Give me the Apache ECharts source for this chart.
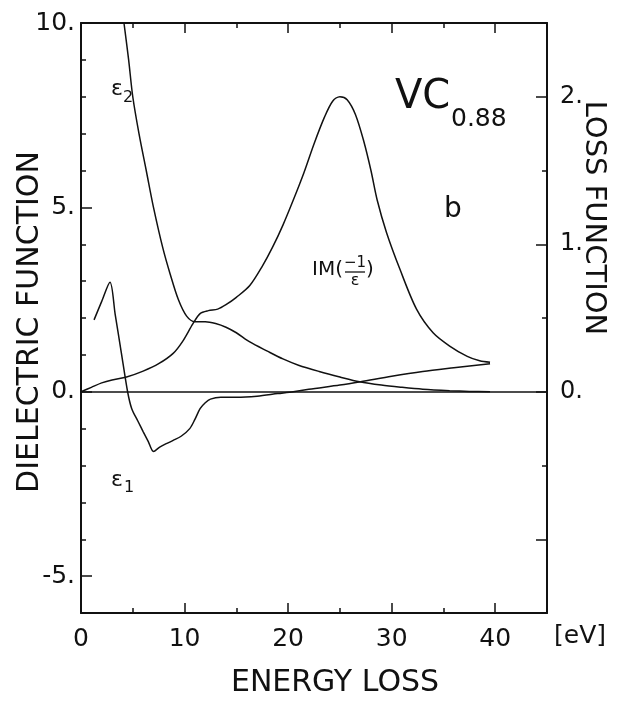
<!DOCTYPE html>
<html>
<head>
<meta charset="utf-8">
<script src="https://cdn.jsdelivr.net/npm/echarts@6/dist/echarts.min.js"></script>
<style>
  html, body { margin: 0; padding: 0; background: #fff; }
  #chart { width: 617px; height: 709px; }
</style>
</head>
<body>
<div id="chart"></div>
<script>
// eps2 (left axis)
const eps2X = [4.15, 4.6, 5.0, 5.6, 6.3, 7.0, 7.9, 8.6, 9.4, 10.2, 11, 12, 13, 14, 15, 16.3, 18, 19.5, 21, 23, 25, 26.9, 29, 31, 33, 35.6, 37.5, 39.5];
const eps2Y = [10, 9.0, 8.0, 7.0, 6.0, 5.0, 3.9, 3.2, 2.5, 2.05, 1.9, 1.9, 1.85, 1.75, 1.6, 1.35, 1.1, 0.89, 0.72, 0.55, 0.4, 0.27, 0.18, 0.12, 0.07, 0.03, 0.01, 0.0];
// eps1 (left axis)
const eps1X = [1.26, 2.0, 2.8, 3.3, 3.9, 4.5, 4.9, 5.5, 6.0, 6.5, 7.0, 7.6, 8.3, 8.9, 9.7, 10.5, 11.0, 11.5, 12.0, 12.5, 13.5, 15, 17, 19, 20.5, 22, 25, 27, 30, 33, 36, 39.5];
const eps1Y = [1.95, 2.45, 2.97, 2.1, 1.05, 0.0, -0.46, -0.8, -1.08, -1.35, -1.62, -1.5, -1.4, -1.32, -1.2, -1.0, -0.75, -0.46, -0.3, -0.2, -0.15, -0.15, -0.12, -0.05, 0.0, 0.07, 0.18, 0.27, 0.42, 0.55, 0.65, 0.76];
// Im(-1/eps) (right axis)
const lossX = [0, 1, 2, 3, 4.4, 6, 7.5, 8.9, 9.8, 10.8, 11.5, 12.3, 13.2, 14, 15, 16.3, 17.5, 18.5, 19.5, 20.5, 21.5, 22.5, 23.5, 24.3, 25.0, 25.7, 26.5, 27.3, 28, 28.6, 29.5, 30.8, 32.4, 34, 35.6, 37.3, 38.5, 39.5];
const lossY = [0, 0.03, 0.06, 0.08, 0.10, 0.14, 0.19, 0.26, 0.34, 0.46, 0.53, 0.55, 0.56, 0.59, 0.64, 0.72, 0.85, 0.98, 1.13, 1.30, 1.48, 1.68, 1.86, 1.97, 2.0, 1.98, 1.88, 1.70, 1.50, 1.30, 1.08, 0.83, 0.56, 0.40, 0.31, 0.24, 0.21, 0.20];

const xLabels = [0, 10, 20, 30, 40];
const leftLabels = [-5, 0, 5, 10];
const rightLabels = [0, 1, 2];

const zip = (xs, ys) => xs.map((x, i) => [x, ys[i]]);
const FONT = 'DejaVu Sans';
const INK = '#111';

const chart = echarts.init(document.getElementById('chart'));

const axLine = { show: true, onZero: false, lineStyle: { color: INK, width: 2 } };
const noLine = { show: false, onZero: false };
const tick = (len, extra) => Object.assign({ inside: true, length: len, lineStyle: { color: INK, width: 1.5 } }, extra || {});

chart.setOption({
    animation: false,
    grid: { left: 81, right: 70, top: 23, bottom: 96 },
    xAxis: [
        {
            type: 'value', position: 'bottom', min: 0, max: 45, interval: 5,
            axisLine: axLine, axisTick: tick(5),
            axisLabel: {
                customValues: xLabels, margin: 14,
                color: INK, fontFamily: FONT, fontSize: 25
            },
            splitLine: { show: false }
        },
        {
            type: 'value', position: 'top', min: 0, max: 45, interval: 5,
            axisLine: axLine, axisTick: tick(5),
            axisLabel: { show: false }, splitLine: { show: false }
        },
        {
            type: 'value', position: 'bottom', min: 0, max: 45,
            axisLine: noLine, axisTick: tick(10, { customValues: [10, 20, 30, 40] }),
            axisLabel: { show: false }, splitLine: { show: false }
        },
        {
            type: 'value', position: 'top', min: 0, max: 45,
            axisLine: noLine, axisTick: tick(10, { customValues: [10, 20, 30, 40] }),
            axisLabel: { show: false }, splitLine: { show: false }
        }
    ],
    yAxis: [
        {
            type: 'value', position: 'left', min: -6, max: 10, interval: 1,
            axisLine: axLine, axisTick: tick(5),
            axisLabel: {
                customValues: leftLabels, margin: 6,
                formatter: (v) => v + '.',
                color: INK, fontFamily: FONT, fontSize: 25
            },
            splitLine: { show: false }
        },
        {
            type: 'value', position: 'right', min: -1.5, max: 2.5, interval: 0.5,
            axisLine: axLine, axisTick: tick(5),
            axisLabel: {
                customValues: rightLabels, margin: 13,
                formatter: (v) => v + '.',
                color: INK, fontFamily: FONT, fontSize: 24
            },
            splitLine: { show: false }
        },
        {
            type: 'value', position: 'left', min: -6, max: 10,
            axisLine: noLine, axisTick: tick(11, { customValues: leftLabels }),
            axisLabel: { show: false }, splitLine: { show: false }
        },
        {
            type: 'value', position: 'right', min: -1.5, max: 2.5,
            axisLine: noLine, axisTick: tick(11, { customValues: [-1, 0, 1, 2] }),
            axisLabel: { show: false }, splitLine: { show: false }
        }
    ],
    series: [
        {
            name: 'eps2', type: 'line', xAxisIndex: 0, yAxisIndex: 0,
            data: zip(eps2X, eps2Y), smooth: 0.3, showSymbol: false,
            lineStyle: { color: INK, width: 1.5 },
            markLine: {
                silent: true, symbol: 'none', label: { show: false },
                lineStyle: { color: INK, width: 1.5, type: 'solid' },
                data: [{ yAxis: 0 }]
            }
        },
        {
            name: 'eps1', type: 'line', xAxisIndex: 0, yAxisIndex: 0,
            data: zip(eps1X, eps1Y), smooth: 0.3, showSymbol: false,
            lineStyle: { color: INK, width: 1.5 }
        },
        {
            name: 'loss', type: 'line', xAxisIndex: 0, yAxisIndex: 1,
            data: zip(lossX, lossY), smooth: 0.3, showSymbol: false,
            lineStyle: { color: INK, width: 1.5 }
        }
    ],
    graphic: [
        // axis titles
        { type: 'text', x: 30, y: 322, rotation: Math.PI / 2,
          style: { text: 'DIELECTRIC FUNCTION', fill: INK, font: '30px "DejaVu Sans"', textAlign: 'center', textVerticalAlign: 'middle' } },
        { type: 'text', x: 594, y: 218, rotation: -Math.PI / 2,
          style: { text: 'LOSS FUNCTION', fill: INK, font: '29px "DejaVu Sans"', textAlign: 'center', textVerticalAlign: 'middle' } },
        { type: 'text', x: 335, y: 683,
          style: { text: 'ENERGY LOSS', fill: INK, font: '30px "DejaVu Sans"', textAlign: 'center', textVerticalAlign: 'middle' } },
        { type: 'text', x: 580, y: 636,
          style: { text: '[eV]', fill: INK, font: '25px "DejaVu Sans"', textAlign: 'center', textVerticalAlign: 'middle' } },
        // curve labels
        { type: 'text', x: 117, y: 89,
          style: { text: 'ε', fill: INK, font: '22px "DejaVu Sans"', textAlign: 'center', textVerticalAlign: 'middle' } },
        { type: 'text', x: 128, y: 98,
          style: { text: '2', fill: INK, font: '16px "DejaVu Sans"', textAlign: 'center', textVerticalAlign: 'middle' } },
        { type: 'text', x: 117, y: 480,
          style: { text: 'ε', fill: INK, font: '22px "DejaVu Sans"', textAlign: 'center', textVerticalAlign: 'middle' } },
        { type: 'text', x: 129, y: 488,
          style: { text: '1', fill: INK, font: '16px "DejaVu Sans"', textAlign: 'center', textVerticalAlign: 'middle' } },
        { type: 'text', x: 395, y: 98,
          style: { text: 'VC', fill: INK, font: '40px "DejaVu Sans"', textAlign: 'left', textVerticalAlign: 'middle' } },
        { type: 'text', x: 451, y: 119,
          style: { text: '0.88', fill: INK, font: '25px "DejaVu Sans"', textAlign: 'left', textVerticalAlign: 'middle' } },
        { type: 'text', x: 453, y: 210,
          style: { text: 'b', fill: INK, font: '28px "DejaVu Sans"', textAlign: 'center', textVerticalAlign: 'middle' } },
        { type: 'text', x: 312, y: 270,
          style: { text: 'IM(', fill: INK, font: '20px "DejaVu Sans"', textAlign: 'left', textVerticalAlign: 'middle' } },
        { type: 'text', x: 355, y: 263,
          style: { text: '−1', fill: INK, font: '15px "DejaVu Sans"', textAlign: 'center', textVerticalAlign: 'middle' } },
        { type: 'line', shape: { x1: 345, y1: 272, x2: 365, y2: 272 }, style: { stroke: INK, lineWidth: 1.3 } },
        { type: 'text', x: 355, y: 281,
          style: { text: 'ε', fill: INK, font: '16px "DejaVu Sans"', textAlign: 'center', textVerticalAlign: 'middle' } },
        { type: 'text', x: 366, y: 270,
          style: { text: ')', fill: INK, font: '20px "DejaVu Sans"', textAlign: 'left', textVerticalAlign: 'middle' } }
    ]
});
</script>
</body>
</html>
